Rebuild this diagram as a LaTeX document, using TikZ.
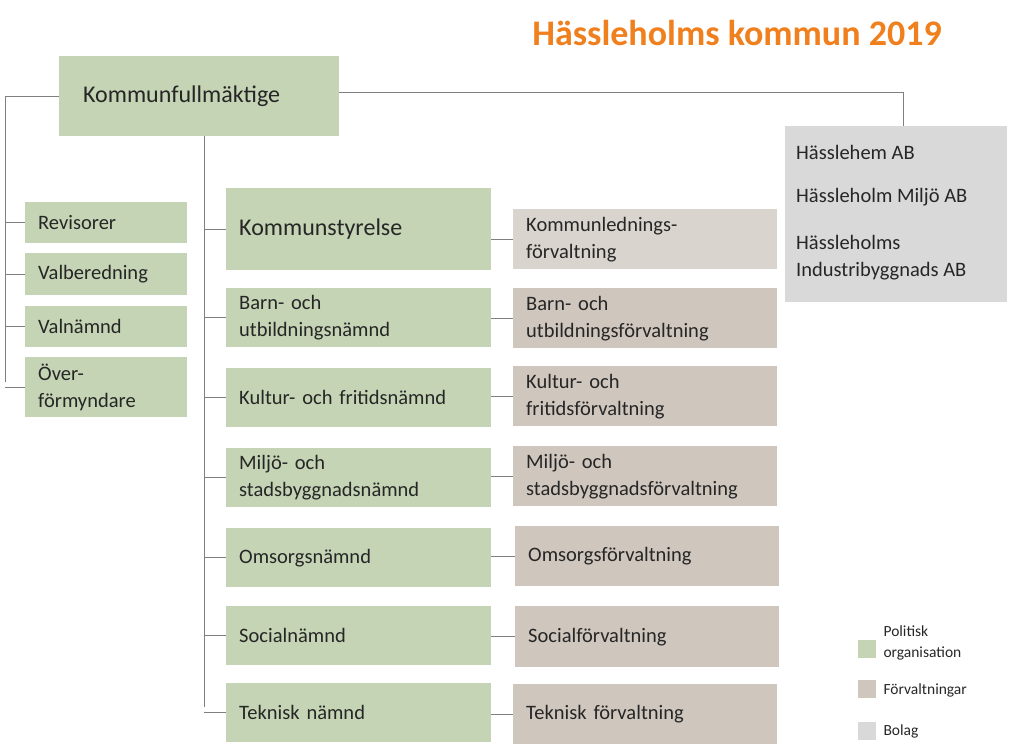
\documentclass[tikz,border=0pt]{standalone}
\usepackage{fontspec}
\setmainfont{Carlito}
\usetikzlibrary{positioning}
\definecolor{polgreen}{HTML}{C4D4B4}
\definecolor{forvbrown}{HTML}{CFC6BD}
\definecolor{forvlight}{HTML}{DAD4CE}
\definecolor{bolaggray}{HTML}{D9D9D9}
\definecolor{titleorange}{HTML}{F07F1E}
\definecolor{linegray}{HTML}{7F7F7F}
\begin{document}
\begin{tikzpicture}[x=1pt, y=-1pt,
  basic/.style = {anchor=north west, inner xsep=13pt, inner ysep=0pt, align=left,
                  font=\fontsize{20.5}{27}\selectfont, text=black!85},
  pol/.style   = {basic, fill=polgreen},
  forv/.style  = {basic, fill=forvbrown},
  bolag/.style = {basic, fill=bolaggray},
  mid/.style   = {pol, minimum width=265pt, text width=239pt, minimum height=59pt},
  side/.style  = {pol, minimum width=162pt, text width=136pt},
  right/.style = {forv, minimum width=264pt, text width=238pt, minimum height=60pt},
  key/.style   = {anchor=north west, minimum size=18pt, inner sep=0pt},
  keytext/.style = {anchor=west, align=left, font=\fontsize{15.5}{21}\selectfont, text=black!85},
  conn/.style  = {draw=linegray, line width=0.8pt}]
\useasboundingbox (0,0) rectangle (1024,747);

% title
\node[font=\fontsize{36}{42}\selectfont\bfseries, text=titleorange] (title) at (737,33) {Hässleholms kommun 2019};

% top level
\node[pol, minimum width=280pt, minimum height=80pt, text width=232pt, inner xsep=24pt,
  font=\fontsize{24}{30}\selectfont] (kf) at (59,56) {Kommunfullmäktige};

% companies
\node[bolag, minimum width=222pt, minimum height=176pt, text width=200pt, inner xsep=11pt] (bolag) at (785,126) {};
\node[basic, inner xsep=0pt] (b1) at (796,145) {Hässlehem AB};
\node[basic, inner xsep=0pt] (b2) at (796,188) {Hässleholm Miljö AB};
\node[basic, inner xsep=0pt] (b3) at (796,235) {Hässleholms\\Industribyggnads AB};

% left column
\node[side, minimum height=41pt] (rev) at (25,202) {Revisorer};
\node[side, minimum height=42pt] (val) at (25,253) {Valberedning};
\node[side, minimum height=41pt] (vn)  at (25,306) {Valnämnd};
\node[side, minimum height=60pt] (ov)  at (25,357) {Över-\\förmyndare};

% middle column
\node[mid, minimum height=82pt, font=\fontsize{24}{30}\selectfont] (ks) at (226,188) {Kommunstyrelse};
\node[mid] (bun) at (226,288) {Barn- och\\utbildningsnämnd};
\node[mid] (kfn) at (226,368) {Kultur- och fritidsnämnd};
\node[mid] (msn) at (226,448) {Miljö- och\\stadsbyggnadsnämnd};
\node[mid] (on)  at (226,528) {Omsorgsnämnd};
\node[mid] (sn)  at (226,606) {Socialnämnd};
\node[mid] (tn)  at (226,683) {Teknisk nämnd};

% right column
\node[right, fill=forvlight] (klf) at (513,209) {Kommunlednings-\\förvaltning};
\node[right] (buf) at (513,288) {Barn- och\\utbildningsförvaltning};
\node[right] (kff) at (513,366) {Kultur- och\\fritidsförvaltning};
\node[right] (msf) at (513,446) {Miljö- och\\stadsbyggnadsförvaltning};
\node[right] (of)  at (515,526) {Omsorgsförvaltning};
\node[right, minimum height=61pt] (sf) at (515,606) {Socialförvaltning};
\node[right] (tf)  at (513,684) {Teknisk förvaltning};

% connectors
\coordinate (lt) at (5,96);
\coordinate (lb) at (5,382);
\coordinate (mt) at (204,136);
\coordinate (mb) at (204,707);
\draw[conn] (kf.west |- lt) -- (lt) -- (lb);
\foreach \n in {rev,val,vn,ov}
  \draw[conn] (\n.west) -- (\n.west -| lt);
\draw[conn] (mt) -- (mb);
\foreach \n in {ks,bun,kfn,msn,on,sn,tn}
  \draw[conn] (\n.west) -- (\n.west -| mt);
\foreach \a/\b in {ks/klf,bun/buf,kfn/kff,msn/msf,on/of,sn/sf,tn/tf}
  \draw[conn] (\a.east |- \b.west) -- (\b.west);
\draw[conn] (kf.east |- 0,92) -| (bolag.north -| 903,0);

% legend
\node[key, fill=polgreen]   (k1) at (858,640) {};
\node[key, fill=forvbrown]  (k2) at (858,680) {};
\node[key, fill=bolaggray]  (k3) at (858,722) {};
\node[keytext] (k1t) at (880,643) {Politisk\\organisation};
\node[keytext] (k2t) at (880,690) {Förvaltningar};
\node[keytext] (k3t) at (880,731) {Bolag};
\end{tikzpicture}
\end{document}
